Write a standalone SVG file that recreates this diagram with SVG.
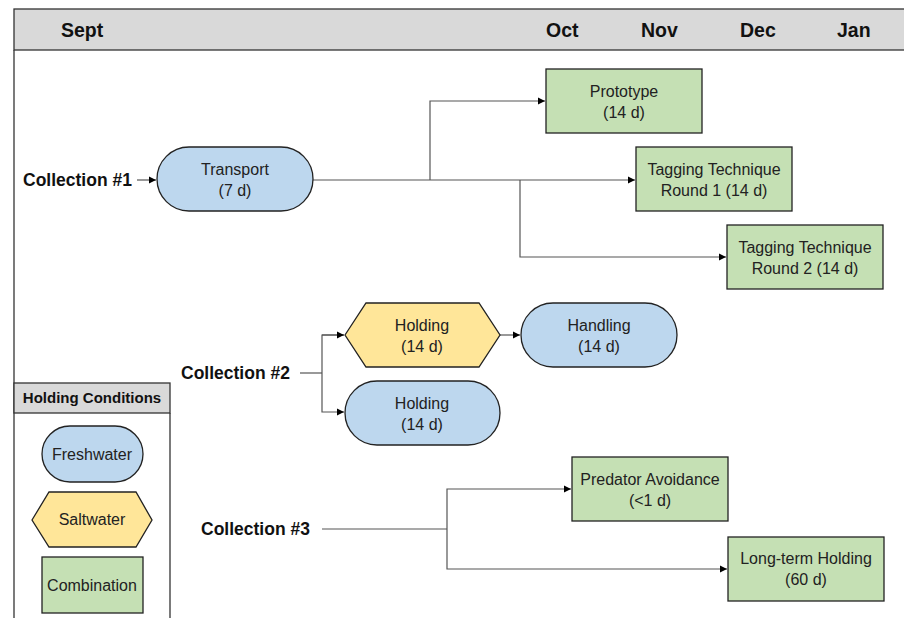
<svg xmlns="http://www.w3.org/2000/svg" width="904" height="618" viewBox="0 0 904 618">
<style>
.hdr{font-family:"Liberation Sans",Arial,sans-serif;font-weight:bold;font-size:19.5px;fill:#111}
.lbl{font-family:"Liberation Sans",Arial,sans-serif;font-weight:bold;font-size:17.5px;fill:#111}
.t{font-family:"Liberation Sans",Arial,sans-serif;font-size:16px;fill:#222;text-anchor:middle}
.fw{fill:#bdd7ee;stroke:#222;stroke-width:1.3}
.sw{fill:#ffe699;stroke:#222;stroke-width:1.3}
.cb{fill:#c5e0b4;stroke:#222;stroke-width:1.3}
.ln{fill:none;stroke:#555;stroke-width:1.2}
</style>
<defs>
<marker id="ah" markerWidth="8" markerHeight="8" refX="7" refY="4" orient="auto" markerUnits="userSpaceOnUse">
<path d="M0,0.5 L7,4 L0,7.5 Z" fill="#000"/>
</marker>
</defs>
<rect width="904" height="618" fill="#fff"/>
<g id="frame">
<rect x="14" y="9" width="900" height="41" fill="#d9d9d9" stroke="#333" stroke-width="1.3"/>
<line x1="14" y1="50" x2="14" y2="618" stroke="#333" stroke-width="1.3"/>
<text class="hdr" x="61" y="37">Sept</text>
<text class="hdr" x="546" y="37">Oct</text>
<text class="hdr" x="641" y="37">Nov</text>
<text class="hdr" x="740" y="37">Dec</text>
<text class="hdr" x="837" y="37">Jan</text>
</g>
<g id="legend">
<rect x="14" y="383" width="156" height="30" fill="#d9d9d9" stroke="#333" stroke-width="1.3"/>
<line x1="170" y1="413" x2="170" y2="618" stroke="#333" stroke-width="1.3"/>
<text x="92" y="403" text-anchor="middle" style="font-family:'Liberation Sans',Arial,sans-serif;font-weight:bold;font-size:15px;fill:#111">Holding Conditions</text>
<rect class="fw" x="42" y="426" width="101" height="56" rx="28"/>
<text class="t" x="92" y="460">Freshwater</text>
<polygon class="sw" points="32,520 49,492 136,492 152,520 136,547 49,547"/>
<text class="t" x="92" y="525">Saltwater</text>
<rect class="cb" x="42" y="557" width="101" height="56"/>
<text class="t" x="92" y="591">Combination</text>
</g>
<g id="connectors">
<line class="ln" x1="137" y1="180" x2="156" y2="180" marker-end="url(#ah)"/>
<line class="ln" x1="313" y1="180" x2="635" y2="180" marker-end="url(#ah)"/>
<polyline class="ln" points="430,180 430,101 545,101" marker-end="url(#ah)"/>
<polyline class="ln" points="520,180 520,257 726,257" marker-end="url(#ah)"/>
<line class="ln" x1="300" y1="373" x2="322" y2="373"/>
<polyline class="ln" points="344,335 322,335 322,412 344,412" marker-end="url(#ah)"/>
<line class="ln" x1="322" y1="335" x2="344" y2="335" marker-end="url(#ah)"/>
<line class="ln" x1="500" y1="335" x2="520" y2="335" marker-end="url(#ah)"/>
<line class="ln" x1="322" y1="529" x2="447" y2="529"/>
<polyline class="ln" points="447,529 447,489 571,489" marker-end="url(#ah)"/>
<polyline class="ln" points="447,529 447,569 727,569" marker-end="url(#ah)"/>
</g>
<g id="collection1"><text class="lbl" x="23" y="186">Collection #1</text></g>
<g id="collection2"><text class="lbl" x="181" y="379">Collection #2</text></g>
<g id="collection3"><text class="lbl" x="201" y="535">Collection #3</text></g>
<g id="transport">
<rect class="fw" x="157" y="147" width="156" height="64" rx="32"/>
<text class="t" x="235" y="175">Transport</text>
<text class="t" x="235" y="196">(7 d)</text>
</g>
<g id="prototype">
<rect class="cb" x="546" y="69" width="156" height="64"/>
<text class="t" x="624" y="97">Prototype</text>
<text class="t" x="624" y="118">(14 d)</text>
</g>
<g id="tagging1">
<rect class="cb" x="636" y="147" width="156" height="64"/>
<text class="t" x="714" y="175">Tagging Technique</text>
<text class="t" x="714" y="196">Round 1 (14 d)</text>
</g>
<g id="tagging2">
<rect class="cb" x="727" y="225" width="156" height="64"/>
<text class="t" x="805" y="253">Tagging Technique</text>
<text class="t" x="805" y="274">Round 2 (14 d)</text>
</g>
<g id="holdingSalt">
<polygon class="sw" points="345,335 366,303 479,303 500,335 479,367 366,367"/>
<text class="t" x="422" y="331">Holding</text>
<text class="t" x="422" y="352">(14 d)</text>
</g>
<g id="handling">
<rect class="fw" x="521" y="303" width="156" height="64" rx="32"/>
<text class="t" x="599" y="331">Handling</text>
<text class="t" x="599" y="352">(14 d)</text>
</g>
<g id="holdingFresh">
<rect class="fw" x="345" y="381" width="155" height="64" rx="32"/>
<text class="t" x="422" y="409">Holding</text>
<text class="t" x="422" y="430">(14 d)</text>
</g>
<g id="predator">
<rect class="cb" x="572" y="457" width="156" height="64"/>
<text class="t" x="650" y="485">Predator Avoidance</text>
<text class="t" x="650" y="506">(&lt;1 d)</text>
</g>
<g id="longterm">
<rect class="cb" x="728" y="537" width="156" height="64"/>
<text class="t" x="806" y="564">Long-term Holding</text>
<text class="t" x="806" y="585">(60 d)</text>
</g>
</svg>
